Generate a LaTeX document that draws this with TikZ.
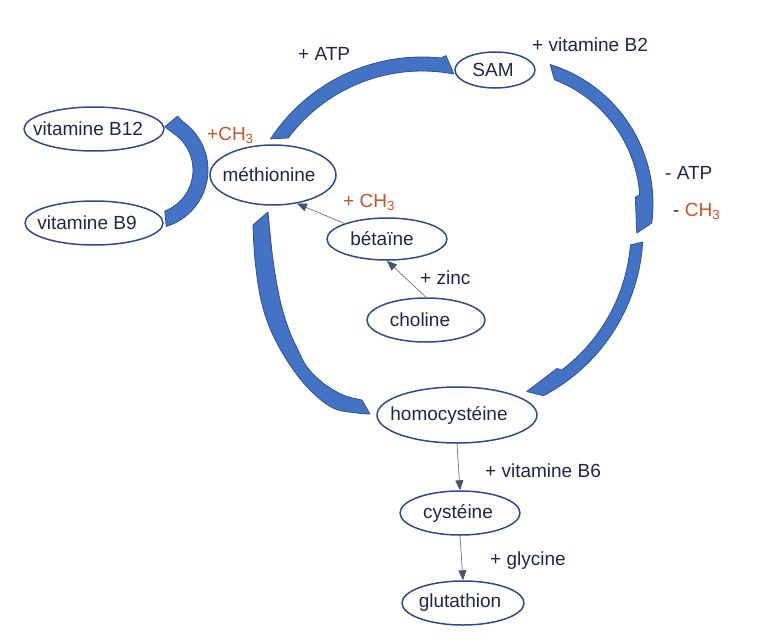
\documentclass[tikz,border=0pt]{standalone}
\usepackage{fontspec}
\setmainfont{Liberation Sans}
\usetikzlibrary{shapes.geometric,arrows.meta}
\definecolor{navy}{RGB}{47,74,138}
\definecolor{ink}{RGB}{31,38,70}
\definecolor{rust}{RGB}{205,80,40}
\definecolor{arcblue}{RGB}{68,114,196}
\definecolor{arcedge}{RGB}{47,82,143}
\definecolor{tipgray}{RGB}{68,84,106}
\newcommand{\mname}[2][0pt]{\makebox[0pt]{\hspace*{#1}#2\hspace*{-#1}}}
\begin{document}
\begin{tikzpicture}[x=1pt,y=-1pt,font=\fontsize{19}{22}\selectfont,line join=round,>={Triangle[length=10pt,width=8pt,color=tipgray]}]
\tikzset{mol/.style={ellipse,draw=navy,line width=1.5pt,text=ink,inner sep=0pt},
  lab/.style={text=ink,anchor=base west,inner sep=0pt},
  blk/.style={fill=arcblue,draw=arcedge,line width=0.8pt},
  link/.style={draw=gray,line width=0.8pt,->}}
\useasboundingbox (0,0) rectangle (768,642);
\node[mol,minimum width=140pt,minimum height=44pt] (b12) at (94,129) {\mname[-6pt]{vitamine B12}};
\node[mol,minimum width=138pt,minimum height=44pt] (b9) at (94,223) {\mname[-7pt]{vitamine B9}};
\node[mol,minimum width=126pt,minimum height=60pt] (meth) at (273,175) {\mname[-4pt]{méthionine}};
\node[mol,minimum width=80pt,minimum height=36pt] (sam) at (495,70) {\mname[-2pt]{SAM}};
\node[mol,minimum width=120pt,minimum height=42pt] (bet) at (387,239) {\mname[-5pt]{bétaïne}};
\node[mol,minimum width=118pt,minimum height=44pt] (chol) at (426,320) {\mname[-6pt]{choline}};
\node[mol,minimum width=160pt,minimum height=56pt] (homo) at (457,415) {\mname[-8pt]{homocystéine}};
\node[mol,minimum width=120pt,minimum height=44pt] (cyst) at (460,513) {\mname[-2pt]{cystéine}};
\node[mol,minimum width=122pt,minimum height=44pt] (glut) at (463,603) {\mname[-3pt]{glutathion}};
% cycle arrows
\coordinate (c1) at (422,238);
\coordinate (c2) at (507,204);
\coordinate (c3) at (457,231);
\coordinate (c4) at (149,170);
\draw[blk,shift={(c1)}] (213.2:181) arc[start angle=213.2,end angle=276,radius=181] -- (277.5:184) -- (281:167) arc[start angle=281,end angle=216.8,radius=167] -- cycle;
\draw[blk,shift={(c2)}] (-72.8:146) arc[start angle=-72.8,end angle=7.5,radius=146] -- (12.6:133) -- (-3:128.5) -- (-4:133) arc[start angle=-4,end angle=-69.1,radius=133] -- cycle;
\draw[blk,shift={(c3)}] (3.4:186) arc[start angle=3.4,end angle=62.3,radius=186] -- (66.5:175) -- (54:170) -- (53:174) arc[start angle=53,end angle=4.6,radius=174] -- cycle;
\draw[blk] plot[smooth,tension=0.6] coordinates {(253,225) (255,260) (261,300) (272,333) (290,365) (310,390) (333,408) (357,413) (370,414)}
  -- plot[smooth,tension=0.6] coordinates {(362,400) (343,395) (323,383) (307,367) (298,350) (289,330) (280,300) (273,260) (268,212)} -- cycle;
\draw[blk,shift={(c4)}] (73:59) arc[start angle=73,end angle=-55,radius=59] -- (-62:61) -- (-70:46) -- (-52:44) arc[start angle=-52,end angle=69,radius=44] -- cycle;
% thin arrows
\draw[link] (bet.160) -- (meth.-50);
\draw[link] (chol.north) -- (bet.south);
\draw[link] (homo.south) -- (cyst.north);
\draw[link] (cyst.south) -- (glut.north);
% labels
\node[lab] (atp1) at (298,60) {+ ATP};
\node[lab] (vb2) at (532,52) {+ vitamine B2};
\node[lab] (atp2) at (665,179) {- ATP};
\node[lab] (ch1) at (673,216) {- \textcolor{rust}{CH\textsubscript{3}}};
\node[lab,text=rust] (ch2) at (207,140) {+CH\textsubscript{3}};
\node[lab,text=rust] (ch3) at (343,207) {+ CH\textsubscript{3}};
\node[lab] (zn) at (420,284) {+ zinc};
\node[lab] (vb6) at (485,477) {+ vitamine B6};
\node[lab] (gly) at (490,565) {+ glycine};
\end{tikzpicture}
\end{document}
